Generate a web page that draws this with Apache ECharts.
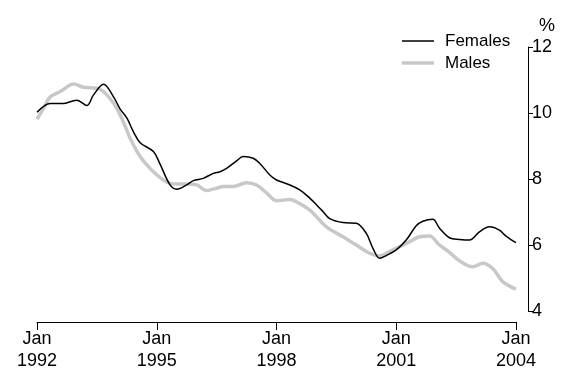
<!DOCTYPE html>
<html>
<head>
<meta charset="utf-8">
<script src="https://cdn.jsdelivr.net/npm/echarts@6/dist/echarts.min.js"></script>
<style>
  html, body { margin: 0; padding: 0; background: #fff; }
  #chart { width: 565px; height: 376px; }
</style>
</head>
<body>
<div id="chart"></div>
<script>
// Unemployment rate (%), trend estimates, Jan 1992 to Jan 2004
const femalesDates = ['1992-01','1992-05','1992-09','1992-11','1993-01','1993-04','1993-06','1993-09','1993-12',
  '1994-02','1994-04','1994-06','1994-08','1994-12','1995-02','1995-05','1995-07','1995-10','1995-12',
  '1996-03','1996-06','1996-08','1996-10','1997-01','1997-03','1997-06','1997-08','1997-11',
  '1998-01','1998-05','1998-08','1998-11','1999-01','1999-03','1999-05','1999-09',
  '2000-01','2000-04','2000-06','2000-08','2000-10','2001-01','2001-04','2001-07','2001-09','2001-12',
  '2002-02','2002-05','2002-08','2002-11','2003-02','2003-05','2003-08','2003-10','2004-01'];
const femalesRate = [10.02,10.29,10.29,10.34,10.39,10.23,10.55,10.87,10.49,
  10.12,9.85,9.43,9.10,8.83,8.45,7.82,7.69,7.82,7.95,
  8.02,8.17,8.22,8.32,8.55,8.68,8.63,8.47,8.12,
  7.97,7.82,7.67,7.42,7.22,7.01,6.80,6.68,
  6.66,6.35,5.90,5.60,5.68,5.85,6.15,6.58,6.72,6.78,
  6.51,6.22,6.17,6.15,6.40,6.55,6.45,6.27,6.07];

const malesDates = ['1992-01','1992-03','1992-05','1992-08','1992-12','1993-03','1993-07','1993-09','1993-12',
  '1994-02','1994-04','1994-05','1994-08','1994-11','1995-03','1995-06','1995-10',
  '1996-01','1996-04','1996-07','1996-09','1996-12','1997-04','1997-07','1997-10',
  '1998-01','1998-05','1998-07','1998-11','1999-04','1999-09',
  '2000-01','2000-05','2000-08','2000-11','2001-02','2001-05','2001-08','2001-11',
  '2002-02','2002-05','2002-08','2002-12','2003-03','2003-06','2003-09','2004-01'];
const malesRate = [9.82,10.14,10.49,10.65,10.88,10.78,10.75,10.65,10.30,
  9.94,9.48,9.23,8.68,8.32,7.97,7.85,7.85,
  7.82,7.65,7.72,7.77,7.77,7.89,7.82,7.58,
  7.34,7.38,7.31,7.06,6.55,6.25,
  6.00,5.75,5.67,5.80,5.95,6.10,6.25,6.27,
  6.00,5.78,5.52,5.34,5.45,5.29,4.89,4.66];

const startYear = 1992;
const yTicks = [4, 6, 8, 10, 12];

// months elapsed since Jan of the start year
function monthIndex(s) {
  const [y, m] = s.split('-').map(Number);
  return (y - startYear) * 12 + (m - 1);
}
function pairs(dates, vals) {
  return dates.map((d, i) => [monthIndex(d), vals[i]]);
}

const FONT = "'Liberation Sans', Arial, sans-serif";
const chart = echarts.init(document.getElementById('chart'), null, { renderer: 'canvas' });

chart.setOption({
  animation: false,
  backgroundColor: '#ffffff',
  textStyle: { fontFamily: FONT, color: '#000' },
  title: {
    text: '%',
    left: 534,
    top: 12,
    textStyle: { fontFamily: FONT, fontSize: 18, fontWeight: 'normal', color: '#000' }
  },
  legend: {
    orient: 'vertical',
    left: 397,
    top: 26,
    itemWidth: 32,
    itemHeight: 14,
    itemGap: 2,
    symbolKeepAspect: true,
    data: [
      { name: 'Females', icon: 'path://M0 0H32V1.5H0Z' },
      { name: 'Males', icon: 'path://M0 0H32V3.5H0Z' }
    ],
    textStyle: { fontFamily: FONT, fontSize: 17, color: '#000', lineHeight: 20, padding: [0, 0, 0, 6] }
  },
  grid: { left: 37, right: 49, top: 47, bottom: 65, containLabel: false },
  xAxis: {
    type: 'value',
    min: 0,
    max: 144,
    interval: 36,
    offset: 11,
    axisLine: { onZero: false, lineStyle: { color: '#000', width: 1 } },
    axisTick: { length: 8, lineStyle: { color: '#000', width: 1 } },
    splitLine: { show: false },
    axisLabel: {
      color: '#000',
      fontFamily: FONT,
      fontSize: 18,
      lineHeight: 22,
      margin: 6,
      formatter: v => 'Jan\n' + (startYear + v / 12)
    }
  },
  yAxis: {
    type: 'value',
    position: 'right',
    offset: 12,
    min: yTicks[0],
    max: yTicks[yTicks.length - 1],
    interval: 2,
    axisLine: { show: true, onZero: false, lineStyle: { color: '#000', width: 1 } },
    axisTick: { show: true, length: 5, lineStyle: { color: '#000', width: 1 } },
    splitLine: { show: false },
    axisLabel: { color: '#000', fontFamily: FONT, fontSize: 18, margin: 4 }
  },
  series: [
    {
      name: 'Males',
      type: 'line',
      data: pairs(malesDates, malesRate),
      smooth: 0.35,
      symbol: 'none',
      lineStyle: { color: '#c8c8c8', width: 3.5 },
      itemStyle: { color: '#c8c8c8' },
      z: 1
    },
    {
      name: 'Females',
      type: 'line',
      data: pairs(femalesDates, femalesRate),
      smooth: 0.35,
      symbol: 'none',
      lineStyle: { color: '#000000', width: 1.5 },
      itemStyle: { color: '#000000' },
      z: 2
    }
  ]
});
</script>
</body>
</html>
